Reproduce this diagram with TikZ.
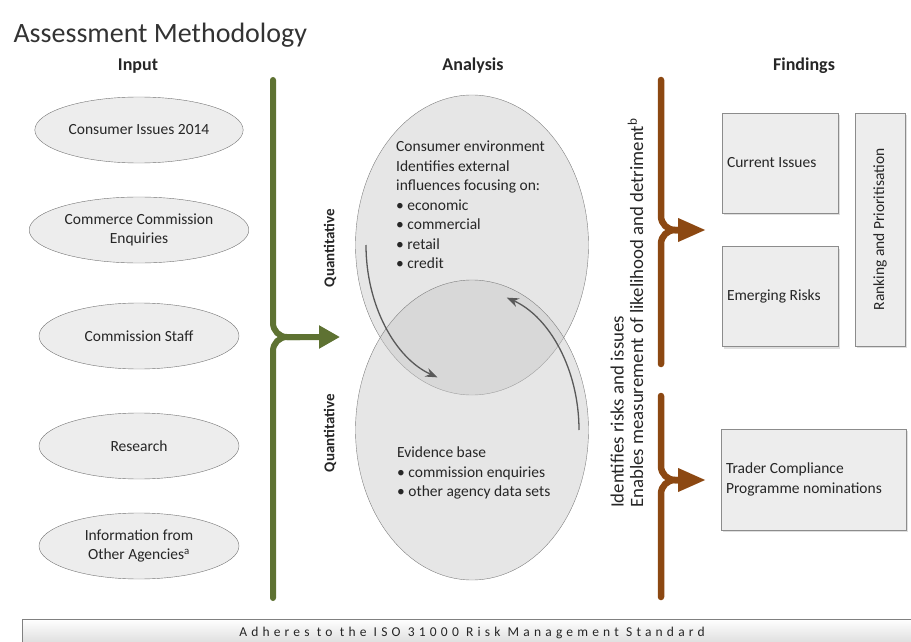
\documentclass[tikz,border=0pt]{standalone}
\usepackage{fontspec}
\setmainfont{Carlito}
\usepackage{tikz}
\usetikzlibrary{arrows.meta,shapes.geometric,shadows,positioning}
\definecolor{olivebar}{RGB}{94,114,50}
\definecolor{rustbar}{RGB}{140,72,18}
\definecolor{inktext}{RGB}{38,38,38}
\tikzstyle{heading} = [font=\fontsize{18}{20}\selectfont\bfseries, text=inktext]
\tikzstyle{source} = [draw=black!55, fill=black!7, ellipse, minimum width=200pt, minimum height=66pt, align=center, text=inktext, font=\fontsize{15.5}{19}\selectfont]
\tikzstyle{stage} = [draw=black!50, fill=black!22, fill opacity=0.45, ellipse, minimum width=233pt, minimum height=300pt]
\tikzstyle{bodytext} = [inner sep=0, align=flush left, text=inktext, font=\fontsize{15.5}{19.5}\selectfont]
\tikzstyle{sidelabel} = [rotate=90, text=inktext, font=\fontsize{15}{17}\selectfont\bfseries]
\tikzstyle{finding} = [draw=black!45, fill=black!7, rectangle, inner sep=5pt, align=flush left, text=inktext, font=\fontsize{15.5}{20}\selectfont, drop shadow={shadow xshift=2pt, shadow yshift=-2pt, opacity=0.25}]
\tikzstyle{greenbar} = [draw=olivebar, line width=6pt, line cap=round, rounded corners=14pt]
\tikzstyle{brownbar} = [draw=rustbar, line width=6.5pt, line cap=round, rounded corners=14pt]
\tikzstyle{loopback} = [draw=black!65, line width=1.3pt, -{Stealth[length=12pt,width=9pt]}]

\begin{document}
\begin{tikzpicture}[x=1pt, y=-1pt]
  \useasboundingbox (0,0) rectangle (911,642);
  \node [anchor=base west, text=black!80, font=\fontsize{28}{30}\selectfont] (title) at (10,43) {Assessment Methodology};
  \node [heading] (input) at (138,66) {Input};
  \node [heading] (analysis) at (473,66) {Analysis};
  \node [heading] (findings) at (804,66) {Findings};

  \node [source] (issues) at (139,130) {Consumer Issues 2014};
  \node [source] (enquiries) at (139,230) {Commerce Commission\\Enquiries};
  \node [source] (staff) at (139,336) {Commission Staff};
  \node [source] (research) at (139,446) {Research};
  \node [source] (agencies) at (139,546) {Information from\\Other Agencies\textsuperscript{a}};

  \coordinate (gtop) at (273,80);
  \coordinate (gbot) at (273,598);
  \coordinate (gtip) at (340,337);
  \coordinate (gjoin) at (300,337);
  \draw [greenbar, -{Triangle[length=21pt,width=22pt]}] (gtop) |- (gtip);
  \draw [greenbar] (gbot) |- (gjoin);

  \node [stage] (environment) at (472,245) {};
  \node [stage] (evidence) at (472,430) {};
  \node [sidelabel] (quantup) at (330,248) {Quantitative};
  \node [sidelabel] (quantdown) at (330,433) {Quantitative};
  \node [bodytext, anchor=north west] (envtext) at (396,141) {Consumer environment\\Identifies external\\influences focusing on:\\\textbullet\ economic\\\textbullet\ commercial\\\textbullet\ retail\\\textbullet\ credit};
  \node [bodytext, anchor=north west] (evtext) at (397,447) {Evidence base\\\textbullet\ commission enquiries\\\textbullet\ other agency data sets};

  \coordinate (downstart) at (366,245);
  \coordinate (upstart) at (579,430);
  \draw [loopback] (downstart) arc [start angle=180, end angle=109, x radius=106, y radius=140];
  \draw [loopback] (upstart) arc [start angle=0, end angle=-71, x radius=107, y radius=140];

  \node [rotate=90, anchor=west, align=flush left, inner sep=0, text=inktext, font=\fontsize{18.8}{19.5}\selectfont] (measure) at (627,508) {Identifies risks and issues\\Enables measurement of likelihood and detriment\textsuperscript{b}};
  \coordinate (btop) at (661,80);
  \coordinate (bsplit) at (661,364);
  \coordinate (bresume) at (661,396);
  \coordinate (bbot) at (661,597);
  \coordinate (btipup) at (706,230);
  \coordinate (bjoinup) at (685,230);
  \coordinate (btipdown) at (706,480);
  \coordinate (bjoindown) at (685,480);
  \draw [brownbar, -{Triangle[length=28pt,width=22pt]}] (btop) |- (btipup);
  \draw [brownbar] (bsplit) |- (bjoinup);
  \draw [brownbar, -{Triangle[length=28pt,width=22pt]}] (bresume) |- (btipdown);
  \draw [brownbar] (bbot) |- (bjoindown);

  \node [finding, text width=106pt, minimum height=100pt] (current) at (780,163) {Current Issues};
  \node [finding, text width=106pt, minimum height=100pt] (emerging) at (780,296.5) {Emerging Risks};
  \node [finding, minimum width=50pt, minimum height=233pt] (ranking) at (880,229.5) {};
  \node [rotate=90, text=inktext, font=\fontsize{15.5}{18}\selectfont] (rankinglabel) at (ranking) {Ranking and Prioritisation};
  \node [finding, text width=175pt, minimum height=101pt] (trader) at (813.5,479.5) {Trader Compliance\\Programme nominations};

  \node [draw=black!50, top color=white, bottom color=black!15, minimum width=900pt, minimum height=28pt, text=inktext, font=\fontsize{13.5}{15}\selectfont\addfontfeature{LetterSpace=31}] (standard) at (472,633) {Adheres to the ISO 31000 Risk Management Standard};
\end{tikzpicture}
\end{document}
